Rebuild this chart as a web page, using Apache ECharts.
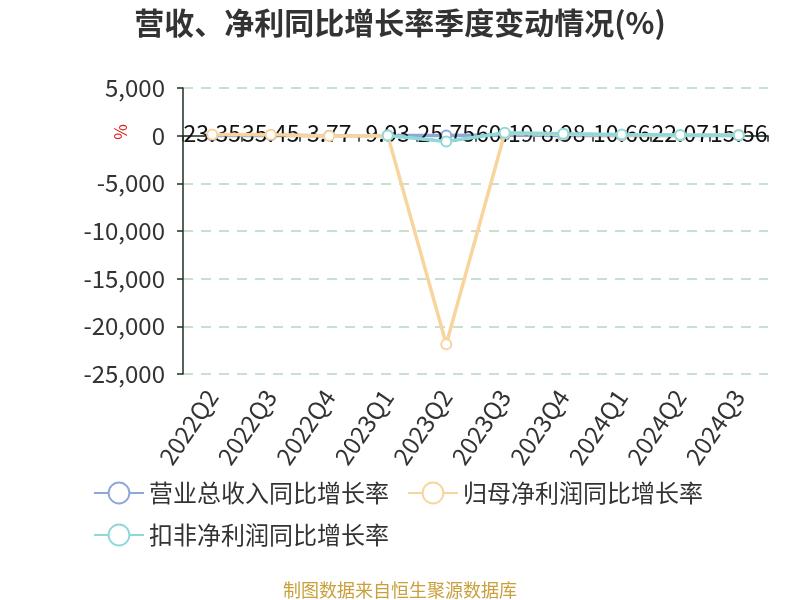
<!DOCTYPE html>
<html>
<head>
<meta charset="utf-8">
<script src="https://cdn.jsdelivr.net/npm/echarts@6/dist/echarts.min.js"></script>
<style>html,body{margin:0;padding:0;background:#fff}#c{width:800px;height:600px}</style>
</head>
<body>
<div id="c"></div>
<script>
var categories = ['2022Q2','2022Q3','2022Q4','2023Q1','2023Q2','2023Q3','2023Q4','2024Q1','2024Q2','2024Q3'];
var revenueYoY = [23.35, 35.45, 3.77, 9.93, 25.75, 60.19, 8.98, 10.66, 22.07, 15.56];
var netProfitYoY = [120, 85, -40, 30, -21880, 260, 150, 70, 45, 90];
var deductedProfitYoY = [null, null, null, 20, -620, 300, 200, 110, 60, 40];
var yTicks = {min: -25000, max: 5000, interval: 5000};

var chart = echarts.init(document.getElementById('c'));
var fontFam = '"Noto Sans CJK SC","Noto Sans",sans-serif';
chart.setOption({
  backgroundColor: '#fff',
  textStyle: {fontFamily: fontFam},
  title: [{
    text: '营收、净利同比增长率季度变动情况(%)',
    left: 'center', top: 3,
    textStyle: {fontSize: 30, fontWeight: 'bold', color: '#333', fontFamily: fontFam}
  }, {
    text: '制图数据来自恒生聚源数据库',
    left: 'center', top: 576,
    textStyle: {fontSize: 18, fontWeight: 'normal', color: '#c9a03c', fontFamily: fontFam}
  }],
  graphic: [{
    type: 'text', left: 112, top: 124, rotation: Math.PI / 2,
    style: {text: '%', fill: '#e02020', fontSize: 17, fontFamily: fontFam}
  }],
  legend: {
    left: 88, top: 476, width: 640,
    itemWidth: 50, itemHeight: 26, itemGap: 18,
    textStyle: {fontSize: 24, color: '#333', fontFamily: fontFam},
    data: ['营业总收入同比增长率', '归母净利润同比增长率', '扣非净利润同比增长率']
  },
  grid: {left: 183, right: 32, top: 88, bottom: 226},
  xAxis: [{
    type: 'category', data: categories, boundaryGap: true, position: 'bottom',
    axisLine: {show: false, onZero: false},
    axisTick: {show: false},
    axisLabel: {rotate: 56, fontSize: 24, color: '#333', margin: 18, interval: 0}
  }, {
    type: 'category', data: categories, boundaryGap: true, position: 'bottom',
    axisLine: {show: true, onZero: true, lineStyle: {color: '#1f2f1f', width: 1.5}},
    axisTick: {show: true, length: 6, lineStyle: {color: '#1f2f1f', width: 1.5}},
    axisLabel: {show: false}
  }],
  yAxis: {
    type: 'value', min: yTicks.min, max: yTicks.max, interval: yTicks.interval,
    axisLine: {show: true, lineStyle: {color: '#1f2f1f', width: 1.5}},
    axisTick: {show: true, length: 6, lineStyle: {color: '#1f2f1f', width: 1.5}},
    axisLabel: {
      fontSize: 24, color: '#333', margin: 18,
      formatter: function (v) { return v.toString().replace(/\B(?=(\d{3})+(?!\d))/g, ','); }
    },
    splitLine: {show: true, lineStyle: {color: '#b5d6c0', type: [10, 8], width: 1.5}}
  },
  series: [{
    name: '营业总收入同比增长率', type: 'line', data: revenueYoY,
    symbol: 'emptyCircle', symbolSize: 10,
    itemStyle: {color: '#8ea8d8'}, lineStyle: {width: 3.5, color: '#8ea8d8'},
    label: {show: true, position: 'inside', offset: [0, -2], fontSize: 23, color: '#111'},
    z: 2
  }, {
    name: '归母净利润同比增长率', type: 'line', data: netProfitYoY,
    symbol: 'emptyCircle', symbolSize: 10,
    itemStyle: {color: '#f8d59c'}, lineStyle: {width: 3.5, color: '#f8d59c'},
    z: 3
  }, {
    name: '扣非净利润同比增长率', type: 'line', data: deductedProfitYoY,
    symbol: 'emptyCircle', symbolSize: 10,
    itemStyle: {color: '#90d9d9'}, lineStyle: {width: 3.5, color: '#90d9d9'},
    z: 4
  }]
});
</script>
</body>
</html>
